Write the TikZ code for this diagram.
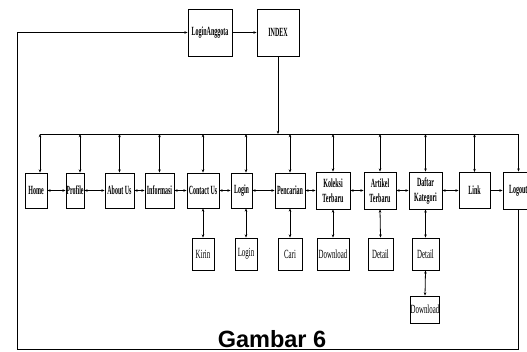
\documentclass[tikz,border=0pt]{standalone}
\usepackage{fontspec}
\setmainfont{Liberation Serif}
\newfontfamily\condfont[FakeStretch=0.48]{Liberation Serif}
\newfontfamily\subfont[FakeStretch=0.55]{Liberation Serif}
\newfontfamily\capfont{Liberation Sans}
\usetikzlibrary{arrows.meta}
\begin{document}
\begin{tikzpicture}[x=1pt,y=-1pt,
  line width=0.8pt,
  box/.style={draw,line width=0.9pt,inner sep=0pt,align=center,font=\condfont\bfseries\fontsize{12.5}{12}\selectfont},
  sub/.style={draw,line width=0.9pt,inner sep=0pt,align=center,font=\subfont\fontsize{12.5}{12}\selectfont},
  sar/.style={-{Stealth[length=3.2pt,width=2.6pt]}},
  dar/.style={{Stealth[length=3.2pt,width=2.6pt]}-{Stealth[length=3.2pt,width=2.6pt]}}]
\useasboundingbox (0,0) rectangle (527,351);
% top
\node[box,minimum width=44pt,minimum height=47pt] (la) at (210,32.5) {LoginAnggota};
\node[box,minimum width=42pt,minimum height=47pt] (idx) at (278,32.5) {INDEX};
% main row
\node[box,minimum width=22pt,minimum height=35pt] (home) at (36,190.5) {Home};
\node[box,minimum width=18pt,minimum height=35pt] (prof) at (75,190.5) {Profile};
\node[box,minimum width=29pt,minimum height=35pt] (about) at (119.5,190.5) {About Us};
\node[box,minimum width=29pt,minimum height=35pt] (info) at (159.5,190.5) {Informasi};
\node[box,minimum width=32pt,minimum height=35pt] (contact) at (203,190.5) {Contact Us};
\node[box,minimum width=21pt,minimum height=35pt] (login) at (241.5,190.5) {Login};
\node[box,minimum width=30pt,minimum height=35pt] (cari) at (290,190.5) {Pencarian};
\node[box,minimum width=34pt,minimum height=37pt] (kol) at (333,190.5) {Koleksi\\[3pt]Terbaru};
\node[box,minimum width=32pt,minimum height=37pt] (art) at (380,190.5) {Artikel\\[3pt]Terbaru};
\node[box,minimum width=33pt,minimum height=37pt] (daf) at (425.5,190.5) {Daftar\\[3pt]Kategori};
\node[box,minimum width=31pt,minimum height=36pt] (link) at (474.5,190.5) {Link};
\node[box,minimum width=31pt,minimum height=37pt,text width=31pt,align=left] (logout) at (518.5,190.5) {\hspace{6pt}Logout};
% sub row
\node[sub,minimum width=22pt,minimum height=32pt] (kirim) at (203,254) {Kirin};
\node[sub,minimum width=22pt,minimum height=32pt] (login2) at (246,254) {Login};
\node[sub,minimum width=24pt,minimum height=32pt] (cari2) at (290,254) {Cari};
\node[sub,minimum width=32pt,minimum height=32pt] (dl1) at (333,254) {Download};
\node[sub,minimum width=25pt,minimum height=32pt] (det1) at (380.5,254) {Detail};
\node[sub,minimum width=27pt,minimum height=32pt] (det2) at (425.5,254) {Detail};
\node[sub,minimum width=28pt,minimum height=27pt] (dl2) at (425,309.5) {Download};
% caption
\node[font=\capfont\bfseries\fontsize{23.5}{24}\selectfont,anchor=base,inner sep=0pt] (cap) at (272,347) {Gambar 6};
% bus
\coordinate (bus) at (0,134);
\coordinate (bl) at (17,349);
\draw[sar] (la.east) -- (idx.west);
\draw[sar] (idx.south) -- (idx.south |- bus);
\draw[sar] ([xshift=4pt]home.north |- bus) -| (logout.north);
\draw[dar] ([xshift=4pt]home.north) -- ([xshift=4pt]home.north |- bus);
\draw[dar] ([xshift=5pt]prof.north) -- ([xshift=5pt]prof.north |- bus);
\foreach \n in {about,info,contact,cari,kol,art,daf,link}
  \draw[dar] (\n.north) -- (\n.north |- bus);
\draw[dar] ([xshift=4.5pt]login.north) -- ([xshift=4.5pt]login.north |- bus);
% horizontal links
\draw[dar] (home.east) -- (prof.west);
\draw[dar] (prof.east) -- (about.west);
\draw[dar] (about.east) -- (info.west);
\draw[dar] (info.east) -- (contact.west);
\draw[dar] (contact.east) -- (login.west);
\draw[dar] (login.east) -- (cari.west);
\draw[dar] (cari.east) -- (kol.west);
\draw[dar] (kol.east) -- (art.west);
\draw[dar] (art.east) -- (daf.west);
\draw[dar] (daf.east) -- (link.west);
\draw[sar] (link.east) -- (logout.west);
% sub links
\draw[dar] (contact.south) -- (kirim.north);
\draw[dar] (login2.north |- login.south) -- (login2.north);
\draw[dar] (cari.south) -- (cari2.north);
\draw[dar] (kol.south) -- (dl1.north);
\draw[dar] (art.south) -- (det1.north);
\draw[dar] (daf.south) -- (det2.north);
\draw[dar] (det2.south) -- (dl2.north);
% loop back
\draw[sar] (logout.south) |- (bl) |- (la.west);
\end{tikzpicture}
\end{document}
